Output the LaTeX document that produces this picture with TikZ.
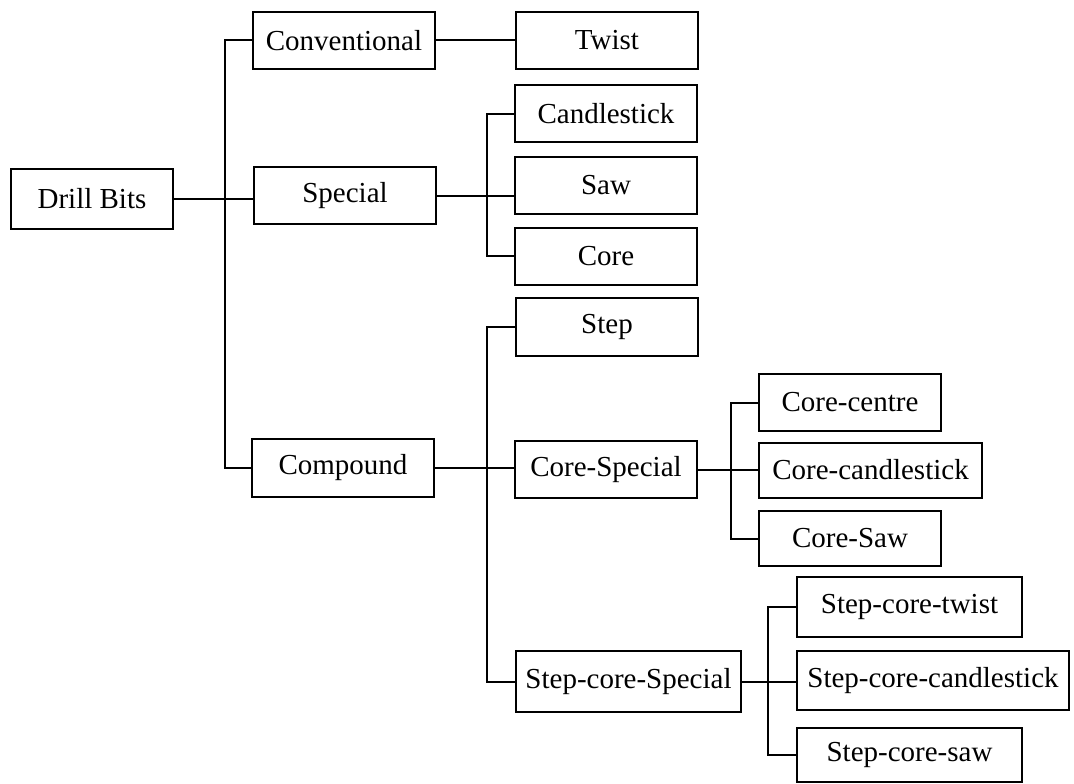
\documentclass[tikz,border=0pt]{standalone}
\usepackage{fontspec}
\setmainfont{Liberation Serif}
\begin{document}
\begin{tikzpicture}[x=1pt,y=-1pt,
  box/.style={draw,line width=2pt,inner sep=0pt,minimum width=182pt,minimum height=57pt,
    font=\fontsize{29}{34}\selectfont},
  conn/.style={line width=2pt,line join=miter}]
\useasboundingbox (0,0) rectangle (1074,784);
% nodes
\node[box,minimum width=162pt,minimum height=60pt] (db) at (92,199) {Drill Bits};
\node[box] (conv) at (344,40.5) {Conventional};
\node[box] (spec) at (345,195.5) {Special};
\node[box,minimum height=58pt] (comp) at (343,468) {Compound};
\node[box] (twist) at (607,40.5) {Twist};
\node[box] (cand) at (606,113.5) {Candlestick};
\node[box] (saw) at (606,185.5) {Saw};
\node[box] (core) at (606,256) {Core};
\node[box,minimum height=58pt] (step) at (607,327) {Step};
\node[box] (cspec) at (606,469.5) {Core-Special};
\node[box,minimum width=225pt,minimum height=61pt] (scspec) at (628.5,681.5) {Step-core-Special};
\node[box] (cc) at (850,402.5) {Core-centre};
\node[box,minimum width=223pt,minimum height=55pt] (ccand) at (870.5,470) {Core-candlestick};
\node[box,minimum height=55pt] (csaw) at (850,538.5) {Core-Saw};
\node[box,minimum width=225pt,minimum height=60pt] (sct) at (909.5,607) {Step-core-twist};
\node[box,minimum width=272pt,minimum height=59pt] (scc) at (933,680.5) {Step-core-candlestick};
\node[box,minimum width=225pt,minimum height=54pt] (scs) at (909.5,755) {Step-core-saw};
% trunk positions
\coordinate (t1) at (225,0);
\coordinate (t2) at (487,0);
\coordinate (t3) at (487,0);
\coordinate (t4) at (731,0);
\coordinate (t5) at (768,0);
% connectors
\draw[conn] (db.east) -- (db.east -| spec.west);
\draw[conn] (conv.west) -- (conv.west -| t1) -- (comp.west -| t1) -- (comp.west);
\draw[conn] (conv.east) -- (twist.west);
\draw[conn] (spec.east) -- (spec.east -| saw.west);
\draw[conn] (cand.west) -- (cand.west -| t2) -- (core.west -| t2) -- (core.west);
\draw[conn] (comp.east) -- (comp.east -| cspec.west);
\draw[conn] (step.west) -- (step.west -| t3) -- (scspec.west -| t3) -- (scspec.west);
\draw[conn] (cspec.east) -- (cspec.east -| ccand.west);
\draw[conn] (cc.west) -- (cc.west -| t4) -- (csaw.west -| t4) -- (csaw.west);
\draw[conn] (scspec.east) -- (scspec.east -| scc.west);
\draw[conn] (sct.west) -- (sct.west -| t5) -- (scs.west -| t5) -- (scs.west);
\end{tikzpicture}
\end{document}
